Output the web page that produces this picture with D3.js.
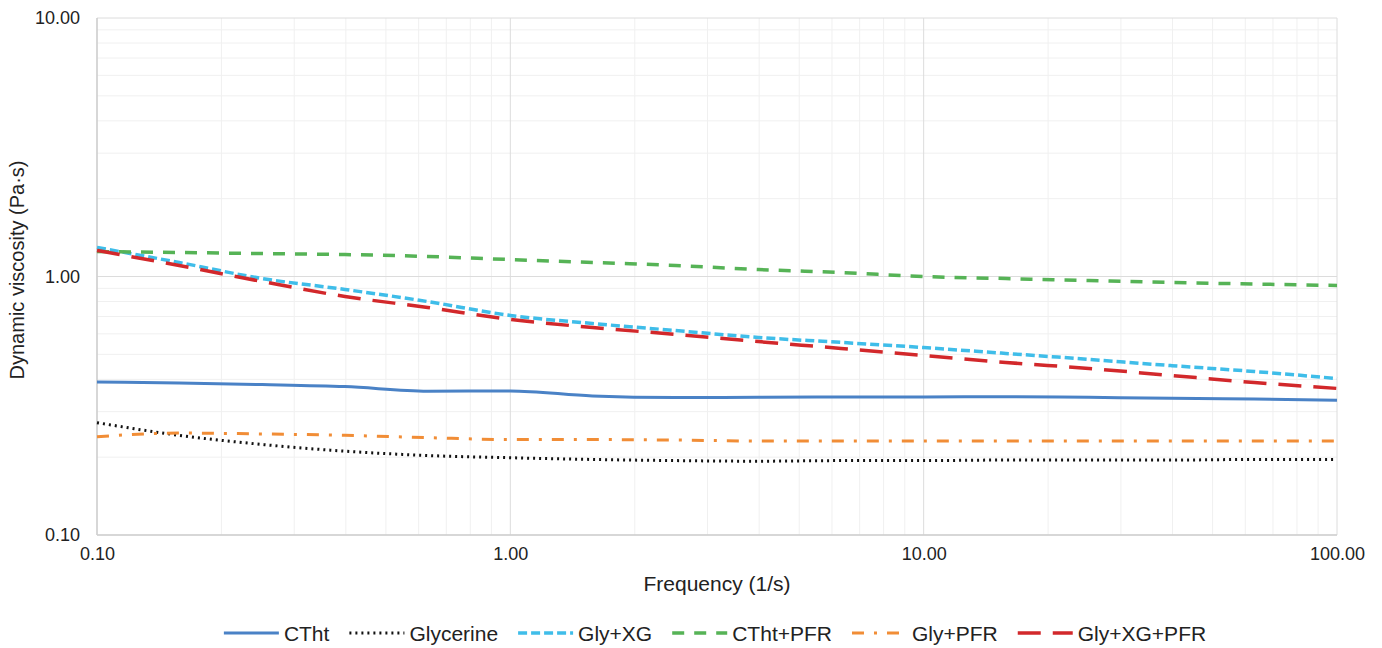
<!DOCTYPE html>
<html><head><meta charset="utf-8">
<script src="https://cdn.jsdelivr.net/npm/d3@7"></script>
<style>body{margin:0;background:#fff;}svg{display:block;font-family:"Liberation Sans",Arial,sans-serif;}</style>
</head><body>
<svg id="chart" width="1382" height="648"></svg>
<script>
const freq = [0.1, 0.158, 0.251, 0.398, 0.631, 1, 1.58, 2.51, 3.98, 6.31, 10, 15.8, 25.1, 39.8, 63.1, 100];
const ctht      = [0.391, 0.387, 0.382, 0.375, 0.360, 0.361, 0.345, 0.340, 0.341, 0.342, 0.342, 0.343, 0.341, 0.338, 0.336, 0.332];
const glycerine = [0.272, 0.243, 0.224, 0.211, 0.203, 0.199, 0.196, 0.194, 0.193, 0.194, 0.194, 0.195, 0.195, 0.195, 0.196, 0.196];
const glyXG     = [1.295, 1.133, 0.982, 0.891, 0.800, 0.707, 0.658, 0.618, 0.581, 0.556, 0.531, 0.504, 0.478, 0.452, 0.429, 0.403];
const chtPFR    = [1.249, 1.238, 1.227, 1.216, 1.195, 1.163, 1.133, 1.103, 1.064, 1.036, 1.000, 0.982, 0.965, 0.948, 0.935, 0.923];
const glyPFR    = [0.240, 0.248, 0.246, 0.243, 0.238, 0.234, 0.234, 0.233, 0.231, 0.231, 0.231, 0.231, 0.231, 0.231, 0.231, 0.231];
const glyXGPFR  = [1.261, 1.103, 0.956, 0.837, 0.759, 0.682, 0.635, 0.597, 0.560, 0.527, 0.495, 0.465, 0.441, 0.414, 0.389, 0.369];
const seriesNames = ["CTht", "Glycerine", "Gly+XG", "CTht+PFR", "Gly+PFR", "Gly+XG+PFR"];
const xTicks = [0.1, 1, 10, 100];
const yTicks = [0.1, 1, 10];

const styles = [
  {color:"#4a82c6", dash:null, w:3},
  {color:"#111111", dash:"2,4", w:3},
  {color:"#3fbde9", dash:"9,4", w:3.5},
  {color:"#56b356", dash:"12,10", w:3.5},
  {color:"#f18d36", dash:"12,10,3,10", w:3},
  {color:"#d2282b", dash:"23,12", w:3.5}
];
const data = [ctht, glycerine, glyXG, chtPFR, glyPFR, glyXGPFR];

const svg = d3.select("#chart");
const L = 97, R = 1337, T = 18, B = 535;
const x = d3.scaleLog().domain([0.1, 100]).range([L, R]);
const y = d3.scaleLog().domain([0.1, 10]).range([B, T]);

// minor grid
const minorX = [], minorY = [];
[0.1, 1, 10].forEach(d => { for (let k = 2; k <= 9; k++) minorX.push(d * k); });
[0.1, 1].forEach(d => { for (let k = 2; k <= 9; k++) minorY.push(d * k); });
const g = svg.append("g");
g.selectAll(".mx").data(minorX).join("line").attr("x1", d => x(d)).attr("x2", d => x(d)).attr("y1", T).attr("y2", B).attr("stroke", "#f0f0f0").attr("stroke-width", 1);
g.selectAll(".my").data(minorY).join("line").attr("y1", d => y(d)).attr("y2", d => y(d)).attr("x1", L).attr("x2", R).attr("stroke", "#f0f0f0").attr("stroke-width", 1);
// major grid
g.selectAll(".Mx").data(xTicks).join("line").attr("x1", d => x(d)).attr("x2", d => x(d)).attr("y1", T).attr("y2", B).attr("stroke", "#dcdcdc").attr("stroke-width", 1);
g.selectAll(".My").data(yTicks).join("line").attr("y1", d => y(d)).attr("y2", d => y(d)).attr("x1", L).attr("x2", R).attr("stroke", "#dcdcdc").attr("stroke-width", 1);
// axis lines
svg.append("line").attr("x1", L).attr("x2", L).attr("y1", T).attr("y2", B).attr("stroke", "#cfcfcf").attr("stroke-width", 1.5);
svg.append("line").attr("x1", L).attr("x2", R).attr("y1", B).attr("y2", B).attr("stroke", "#cfcfcf").attr("stroke-width", 1.5);

// axes via d3
const fmt = d3.format(".2f");
const xAxis = svg.append("g").attr("transform", `translate(0,${B})`)
  .call(d3.axisBottom(x).tickValues(xTicks).tickFormat(fmt).tickSize(0).tickPadding(12));
const yAxis = svg.append("g").attr("transform", `translate(${L},0)`)
  .call(d3.axisLeft(y).tickValues(yTicks).tickFormat(fmt).tickSize(0).tickPadding(17));
[xAxis, yAxis].forEach(a => {
  a.select(".domain").remove();
  a.selectAll("text").attr("font-size", 18).attr("fill", "#222").attr("font-family", "'Liberation Sans',Arial,sans-serif");
});

// lines
const line = d3.line().x((d, i) => x(freq[i])).y(d => y(d)).curve(d3.curveMonotoneX);
data.forEach((s, i) => {
  svg.append("path").datum(s).attr("d", line).attr("fill", "none")
    .attr("stroke", styles[i].color).attr("stroke-width", styles[i].w)
    .attr("stroke-dasharray", styles[i].dash);
});

// titles
svg.append("text").attr("x", 717).attr("y", 591).attr("text-anchor", "middle")
  .attr("font-size", 21).attr("fill", "#222").text("Frequency (1/s)");
svg.append("text").attr("transform", `translate(24,270) rotate(-90)`).attr("text-anchor", "middle")
  .attr("font-size", 20).attr("fill", "#222").text("Dynamic viscosity (Pa·s)");

// legend
const leg = svg.append("g");
const legY = 633;
let cx = 0;
seriesNames.forEach((n, i) => {
  const it = leg.append("g").attr("transform", `translate(${cx},0)`);
  it.append("line").attr("x1", 0).attr("x2", 55).attr("y1", legY).attr("y2", legY)
    .attr("stroke", styles[i].color).attr("stroke-width", styles[i].w).attr("stroke-dasharray", styles[i].dash);
  const t = it.append("text").attr("x", 60).attr("y", legY + 7.5).attr("font-size", 21).attr("fill", "#222").text(n);
  const w = t.node().getComputedTextLength();
  cx += 60 + w + 20;
});
const total = cx - 20;
leg.attr("transform", `translate(${715 - total / 2},0)`);
</script>
</body></html>
